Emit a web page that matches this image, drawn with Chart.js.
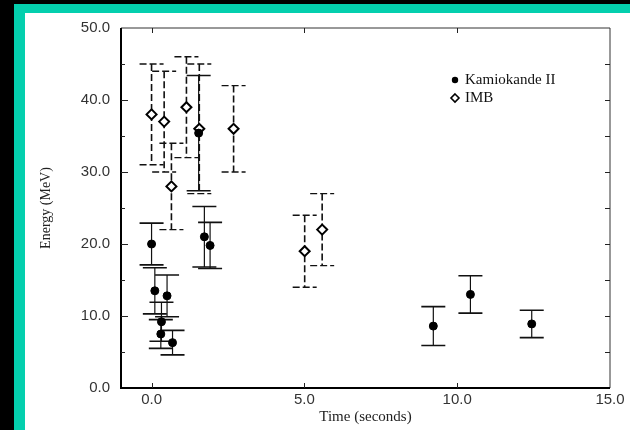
<!DOCTYPE html>
<html>
<head>
<meta charset="utf-8">
<script src="https://cdn.jsdelivr.net/npm/chart.js@4.4.1/dist/chart.umd.min.js"></script>
<style>
    html, body { margin: 0; padding: 0; width: 630px; height: 430px; overflow: hidden; background: #000; }
    #frame { position: absolute; left: 14px; top: 4px; right: 0; bottom: 0; background: #04cfae; }
    #paper { position: absolute; left: 25px; top: 13px; right: 0; bottom: 0; background: #fff; }
    #wrap  { position: absolute; left: 0; top: 0; width: 630px; height: 430px; }
</style>
</head>
<body>
<div id="frame"></div>
<div id="paper"></div>
<div id="wrap"><canvas id="c" width="630" height="430"></canvas></div>
<script>
'use strict';
// SN1987A ニュートリノ到来時刻とエネルギー
const KAM_TIME   = [0.000, 0.107, 0.303, 0.324, 0.507, 0.686, 1.541, 1.728, 1.915, 9.219, 10.433, 12.439];
const KAM_ENERGY = [20.0, 13.5, 7.5, 9.2, 12.8, 6.3, 35.4, 21.0, 19.8, 8.6, 13.0, 8.9];
const KAM_ERR    = [2.9, 3.2, 2.0, 2.7, 2.9, 1.7, 8.0, 4.2, 3.2, 2.7, 2.6, 1.9];

const IMB_TIME   = [0.000, 0.412, 0.650, 1.141, 1.562, 2.684, 5.010, 5.582];
const IMB_ENERGY = [38, 37, 28, 39, 36, 36, 19, 22];
const IMB_ERR    = [7, 7, 6, 7, 9, 6, 5, 5];

const X_TICKS = [0, 5, 10, 15];
const Y_TICKS = [0, 10, 20, 30, 40, 50];
const Y_MINOR = [5, 15, 25, 35, 45];

const CAP = 12;
const SANS = "'Liberation Sans', Arial, sans-serif";
const SERIF = "'Liberation Serif', 'Times New Roman', serif";

function points(xs, ys) {
    return xs.map((t, i) => ({ x: t, y: ys[i] }));
}

// 誤差棒（マーカーの下に描く）
const errorBars = {
    id: 'errorBars',
    beforeDatasetsDraw(chart) {
        const { ctx, scales: { x, y } } = chart;
        chart.data.datasets.forEach(ds => {
            ctx.save();
            ctx.strokeStyle = '#111';
            ctx.setLineDash(ds.barDash);
            ds.data.forEach((p, i) => {
                const px = x.getPixelForValue(p.x);
                const top = y.getPixelForValue(p.y + ds.err[i]);
                const bot = y.getPixelForValue(p.y - ds.err[i]);
                ctx.lineWidth = ds.barWidth;
                ctx.beginPath();
                ctx.moveTo(px, top);
                ctx.lineTo(px, bot);
                ctx.stroke();
                ctx.lineWidth = ds.capWidth;
                ctx.beginPath();
                ctx.moveTo(px - CAP, top); ctx.lineTo(px + CAP, top);
                ctx.moveTo(px - CAP, bot); ctx.lineTo(px + CAP, bot);
                ctx.stroke();
            });
            ctx.restore();
        });
    },
};

// 枠と内向きの目盛り
const frameTicks = {
    id: 'frameTicks',
    afterDraw(chart) {
        const { ctx, chartArea: a, scales: { x, y } } = chart;
        ctx.save();
        ctx.strokeStyle = '#333';
        ctx.lineWidth = 1;
        ctx.beginPath();
        ctx.moveTo(a.left, a.top); ctx.lineTo(a.right, a.top); ctx.lineTo(a.right, a.bottom);
        ctx.stroke();
        ctx.strokeStyle = '#000';
        ctx.lineWidth = 2;
        ctx.beginPath();
        ctx.moveTo(a.left, a.top); ctx.lineTo(a.left, a.bottom); ctx.lineTo(a.right, a.bottom);
        ctx.stroke();

        ctx.lineWidth = 1;
        ctx.strokeStyle = '#222';
        ctx.beginPath();
        X_TICKS.forEach(v => {
            const px = Math.round(x.getPixelForValue(v)) + 0.5;
            if (px > a.right - 2) return;
            ctx.moveTo(px, a.top); ctx.lineTo(px, a.top + 5);
            ctx.moveTo(px, a.bottom); ctx.lineTo(px, a.bottom - 5);
        });
        Y_TICKS.forEach(v => {
            const py = Math.round(y.getPixelForValue(v)) + 0.5;
            if (py < a.top + 2 || py > a.bottom - 2) return;
            ctx.moveTo(a.left, py); ctx.lineTo(a.left + 7, py);
            ctx.moveTo(a.right, py); ctx.lineTo(a.right - 5, py);
        });
        Y_MINOR.forEach(v => {
            const py = Math.round(y.getPixelForValue(v)) + 0.5;
            ctx.moveTo(a.left, py); ctx.lineTo(a.left + 4, py);
            ctx.moveTo(a.right, py); ctx.lineTo(a.right - 5, py);
        });
        ctx.stroke();
        ctx.restore();
    },
};

// 右上の凡例
const boxLegend = {
    id: 'boxLegend',
    afterDraw(chart) {
        const { ctx } = chart;
        ctx.save();
        ctx.font = '15px ' + SERIF;
        ctx.fillStyle = '#111';
        ctx.textBaseline = 'middle';
        chart.data.datasets.forEach((ds, i) => {
            const mx = 455, my = 80 + i * 18;
            ctx.beginPath();
            if (ds.pointStyle === 'circle') {
                ctx.arc(mx, my, 3.2, 0, Math.PI * 2);
                ctx.fillStyle = '#000';
                ctx.fill();
            } else {
                ctx.moveTo(mx, my - 4); ctx.lineTo(mx + 4, my); ctx.lineTo(mx, my + 4); ctx.lineTo(mx - 4, my);
                ctx.closePath();
                ctx.lineWidth = 1.6;
                ctx.strokeStyle = '#000';
                ctx.stroke();
            }
            ctx.fillStyle = '#111';
            ctx.fillText(ds.label, 465, my);
        });
        ctx.restore();
    },
};

new Chart(document.getElementById('c'), {
    type: 'scatter',
    data: {
        datasets: [
            {
                label: 'Kamiokande II',
                data: points(KAM_TIME, KAM_ENERGY),
                err: KAM_ERR,
                barDash: [],
                barWidth: 1.2,
                capWidth: 1.6,
                pointStyle: 'circle',
                pointRadius: 4,
                backgroundColor: '#000',
                borderColor: '#000',
                borderWidth: 1,
            },
            {
                label: 'IMB',
                data: points(IMB_TIME, IMB_ENERGY),
                err: IMB_ERR,
                barDash: [7, 3],
                barWidth: 1.6,
                capWidth: 1.4,
                pointStyle: 'rectRot',
                pointRadius: 5,
                backgroundColor: '#fff',
                borderColor: '#000',
                borderWidth: 2,
            },
        ],
    },
    options: {
        responsive: false,
        animation: false,
        events: [],
        layout: { padding: { left: 25, top: 28, right: 20, bottom: 0 } },
        plugins: { legend: { display: false }, tooltip: { enabled: false } },
        scales: {
            x: {
                type: 'linear',
                min: -1,
                max: 15,
                afterBuildTicks: s => { s.ticks = X_TICKS.map(v => ({ value: v })); },
                afterFit: s => { s.height = 42; },
                grid: { display: false, drawTicks: false },
                border: { display: false },
                ticks: {
                    padding: 3,
                    color: '#333',
                    font: { family: SANS, size: 15 },
                    callback: v => Number(v).toFixed(1),
                },
                title: {
                    display: true,
                    text: 'Time (seconds)',
                    color: '#222',
                    font: { family: SERIF, size: 15 },
                    padding: { top: 0, bottom: 4 },
                },
            },
            y: {
                type: 'linear',
                min: 0,
                max: 50,
                afterBuildTicks: s => { s.ticks = Y_TICKS.map(v => ({ value: v })); },
                afterFit: s => { s.width = 96; },
                grid: { display: false, drawTicks: false },
                border: { display: false },
                ticks: {
                    padding: 11,
                    color: '#333',
                    font: { family: SANS, size: 15 },
                    callback: v => Number(v).toFixed(1),
                },
                title: {
                    display: true,
                    text: 'Energy (MeV)',
                    color: '#222',
                    font: { family: SERIF, size: 14 },
                    padding: { top: 13, bottom: 0 },
                },
            },
        },
    },
    plugins: [errorBars, frameTicks, boxLegend],
});
</script>
</body>
</html>
